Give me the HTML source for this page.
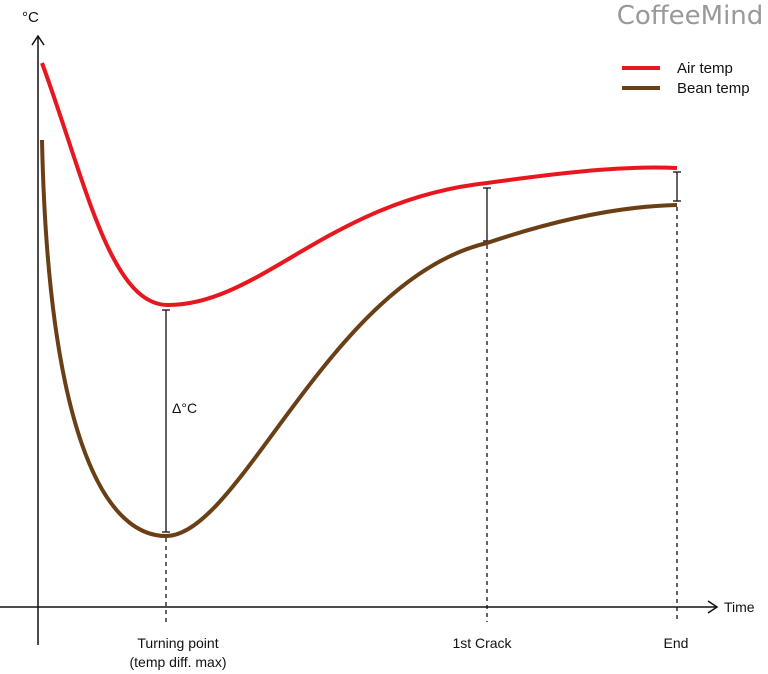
<!DOCTYPE html>
<html><head><meta charset="utf-8"><style>
html,body{margin:0;padding:0;background:#fff;}
svg{display:block;font-family:"Liberation Sans",sans-serif;}
</style></head><body>
<svg width="768" height="674" viewBox="0 0 768 674">
<rect width="768" height="674" fill="#fff"/>
<text x="690" y="24" font-size="26" fill="#999" text-anchor="middle" font-family="'DejaVu Sans',sans-serif">CoffeeMind</text>
<line x1="38" y1="36" x2="38" y2="645" stroke="#111" stroke-width="1.5"/>
<polyline points="32,45 38,36 44,45" fill="none" stroke="#111" stroke-width="1.5"/>
<line x1="0" y1="607" x2="716" y2="607" stroke="#111" stroke-width="1.5"/>
<polyline points="708,601 717,607 708,613" fill="none" stroke="#111" stroke-width="1.5"/>
<text x="22" y="22" font-size="15" fill="#111">°C</text>
<text x="724" y="612" font-size="14" fill="#111">Time</text>
<g stroke="#111" stroke-width="1.3" stroke-dasharray="4,4">
<line x1="166" y1="538" x2="166" y2="622"/>
<line x1="487" y1="245" x2="487" y2="622"/>
<line x1="677" y1="207" x2="677" y2="622"/>
</g>
<g stroke="#111" stroke-width="1.3">
<line x1="166" y1="310" x2="166" y2="532"/><line x1="162" y1="310" x2="170" y2="310"/><line x1="162" y1="532" x2="170" y2="532"/>
<line x1="487" y1="188" x2="487" y2="241"/><line x1="483" y1="188" x2="491" y2="188"/><line x1="483" y1="241" x2="491" y2="241"/>
<line x1="677" y1="172" x2="677" y2="201"/><line x1="673" y1="172" x2="681" y2="172"/><line x1="673" y1="201" x2="681" y2="201"/>
</g>
<text x="172" y="413" font-size="14" fill="#111">Δ°C</text>
<path d="M42,63 C85,180 110,305 168,305 C260,305 330,200 487,183 C580,170 630,166 677,168" fill="none" stroke="#e8161e" stroke-width="4"/>
<path d="M42,140 C48,420 100,536 166,536 C240,536 330,280 487,243 C570,215 630,206 677,205" fill="none" stroke="#6b3f16" stroke-width="4"/>
<line x1="622" y1="68" x2="660" y2="68" stroke="#e8161e" stroke-width="4"/>
<line x1="622" y1="88" x2="660" y2="88" stroke="#6b3f16" stroke-width="4"/>
<text x="677" y="73" font-size="15" fill="#111">Air temp</text>
<text x="677" y="93" font-size="15" fill="#111">Bean temp</text>
<g font-size="14" fill="#111" text-anchor="middle">
<text x="178" y="648">Turning point</text>
<text x="178" y="667">(temp diff. max)</text>
<text x="482" y="648">1st Crack</text>
<text x="676" y="648">End</text>
</g>
</svg>
</body></html>
